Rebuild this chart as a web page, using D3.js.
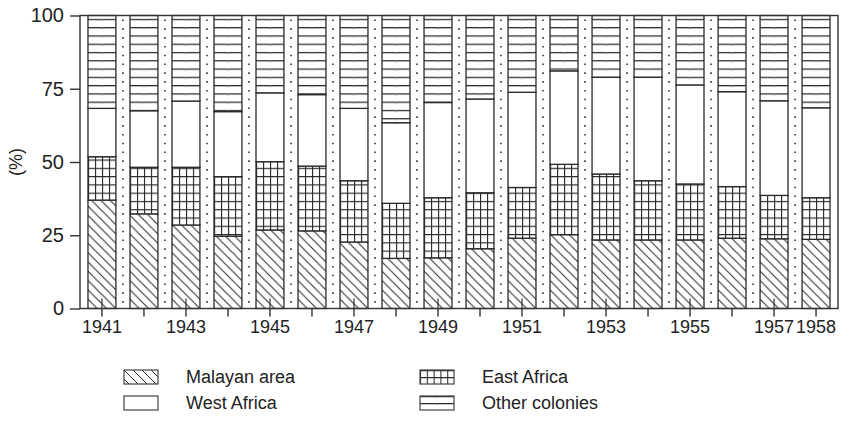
<!DOCTYPE html>
<html>
<head>
<meta charset="utf-8">
<script src="https://cdn.jsdelivr.net/npm/d3@7"></script>
<style>
  html, body { margin: 0; padding: 0; background: #fff; }
  svg text { font-family: "Liberation Sans", Arial, sans-serif; fill: #222; }
</style>
</head>
<body>
<svg id="chart" width="850" height="426"></svg>
<script>
// Share of colonial exports by region, 1941–1958 (percent, stacked to 100)
const years = [1941, 1942, 1943, 1944, 1945, 1946, 1947, 1948, 1949,
               1950, 1951, 1952, 1953, 1954, 1955, 1956, 1957, 1958];
const malayanArea = [37.0, 32.3, 28.5, 24.7, 26.8, 26.5, 22.7, 17.1, 17.3,
                     20.4, 24.0, 25.2, 23.4, 23.4, 23.4, 24.0, 23.8, 23.6];
const eastAfrica  = [14.8, 15.9, 19.7, 20.3, 23.3, 22.1, 20.9, 18.8, 20.5,
                     19.1, 17.3, 24.0, 22.5, 20.2, 19.1, 17.6, 14.8, 14.2];
const westAfrica  = [16.5, 19.3, 22.6, 22.2, 23.5, 24.4, 24.7, 27.5, 32.5,
                     32.0, 32.5, 31.9, 33.0, 35.3, 33.8, 32.4, 32.3, 30.7];
const otherColonies = years.map((_, i) =>
  +(100 - malayanArea[i] - eastAfrica[i] - westAfrica[i]).toFixed(1));

const yTicks = [0, 25, 50, 75, 100];
const xLabels = [1941, 1943, 1945, 1947, 1949, 1951, 1953, 1955, 1957, 1958];

const seriesKeys = ["mal", "ea", "wa", "oth"];
const seriesNames = {
  mal: "Malayan area", ea: "East Africa", wa: "West Africa", oth: "Other colonies"
};

const rows = years.map((yr, i) => ({
  year: yr, mal: malayanArea[i], ea: eastAfrica[i], wa: westAfrica[i], oth: otherColonies[i]
}));

const svg = d3.select("#chart");
const plotLeft = 80, plotRight = 838, plotTop = 15.5, plotBottom = 308.5;
const ink = "#2a2a2a";

const x = d3.scaleBand().domain(years).range([plotLeft, plotRight])
  .paddingInner(0.335).paddingOuter(0.19);
const y = d3.scaleLinear().domain([0, 100]).range([plotBottom, plotTop]);
const bw = x.bandwidth();
const rowStep = (y(0) - y(100)) / 35.4;   // spacing of the ruled patterns

const defs = svg.append("defs");

// Pattern builders; each bar gets its own copy aligned to its left edge
function hatchPattern(id, x0) {
  const s = bw / 3;
  const p = defs.append("pattern").attr("id", id)
    .attr("patternUnits", "userSpaceOnUse")
    .attr("x", x0).attr("y", y(0))
    .attr("width", s).attr("height", s);
  p.append("rect").attr("width", s).attr("height", s).attr("fill", "#fff");
  p.append("path")
    .attr("d", `M${-s},0L${s},${2 * s}M0,${-s}L${2 * s},${s}M0,0L${s},${s}`)
    .attr("stroke", ink).attr("stroke-width", 1.05);
}
function gridPattern(id, x0) {
  const w = bw / 4, h = rowStep;
  const p = defs.append("pattern").attr("id", id)
    .attr("patternUnits", "userSpaceOnUse")
    .attr("x", x0).attr("y", y(0))
    .attr("width", w).attr("height", h);
  p.append("rect").attr("width", w).attr("height", h).attr("fill", "#fff");
  p.append("path").attr("d", `M0.5,0V${h}M0,0.6H${w}`)
    .attr("stroke", ink).attr("stroke-width", 1.3);
}
function rulePattern(id, x0) {
  const w = bw, h = rowStep;
  const p = defs.append("pattern").attr("id", id)
    .attr("patternUnits", "userSpaceOnUse")
    .attr("x", x0).attr("y", y(0))
    .attr("width", w).attr("height", h);
  p.append("rect").attr("width", w).attr("height", h).attr("fill", "#fff");
  p.append("path").attr("d", `M0,0.6H${w}`)
    .attr("stroke", ink).attr("stroke-width", 1.3);
  p.append("path").attr("d", `M${w / 2},0V2`)
    .attr("stroke", "#777").attr("stroke-width", 1);
}

years.forEach(yr => {
  const x0 = x(yr);
  hatchPattern(`mal-${yr}`, x0);
  gridPattern(`ea-${yr}`, x0);
  rulePattern(`oth-${yr}`, x0);
});

// Dotted separators between bars
const seps = years.slice(0, -1).map(yr => x(yr) + bw + (x.step() - bw) / 2);
svg.append("g").selectAll("line").data(seps).join("line")
  .attr("x1", d => d).attr("x2", d => d)
  .attr("y1", plotTop + 4).attr("y2", plotBottom)
  .attr("stroke", "#333").attr("stroke-width", 1.6)
  .attr("stroke-dasharray", "1.6,7.2");

// Stacked bars
const stack = d3.stack().keys(seriesKeys)(rows);
const gBars = svg.append("g");
stack.forEach(layer => {
  const key = layer.key;
  gBars.append("g").selectAll("rect").data(layer).join("rect")
    .attr("x", d => x(d.data.year))
    .attr("y", d => y(d[1]))
    .attr("width", bw)
    .attr("height", d => y(d[0]) - y(d[1]))
    .attr("fill", d => key === "wa" ? "#fff" : `url(#${key}-${d.data.year})`)
    .attr("stroke", ink).attr("stroke-width", 1.3);
});

// Frame
svg.append("rect").attr("x", plotLeft).attr("y", plotTop)
  .attr("width", plotRight - plotLeft).attr("height", plotBottom - plotTop)
  .attr("fill", "none").attr("stroke", "#333").attr("stroke-width", 1.4);

// Y axis
const yAxis = svg.append("g").attr("transform", `translate(${plotLeft},0)`)
  .call(d3.axisLeft(y).tickValues(yTicks).tickSize(10).tickPadding(6));
yAxis.select(".domain").remove();
yAxis.selectAll(".tick line").attr("stroke", "#333").attr("stroke-width", 1.4);
yAxis.selectAll(".tick text").style("font-size", "20px").attr("fill", "#222");

// X axis: ticks under every bar, labels on selected years
const xAxis = svg.append("g").attr("transform", `translate(0,${plotBottom})`)
  .call(d3.axisBottom(x).tickSize(8).tickPadding(4)
    .tickFormat(d => xLabels.includes(d) ? d : ""));
xAxis.select(".domain").remove();
xAxis.selectAll(".tick line").attr("stroke", "#333").attr("stroke-width", 1.4);
xAxis.selectAll(".tick text").style("font-size", "18px").attr("fill", "#222");
// short inner ticks on labelled years
xAxis.selectAll(".tick").filter(d => xLabels.includes(d) && d !== 1958)
  .append("line").attr("y1", 0).attr("y2", -10)
  .attr("stroke", "#333").attr("stroke-width", 1.2);

// Y title
svg.append("text")
  .attr("transform", `translate(16,${(plotTop + plotBottom) / 2}) rotate(-90)`)
  .attr("text-anchor", "middle")
  .attr("dominant-baseline", "central")
  .style("font-size", "18px")
  .text("(%)");

// Legend
const legendItems = [
  { key: "mal", col: 0, row: 0 }, { key: "ea", col: 1, row: 0 },
  { key: "wa", col: 0, row: 1 }, { key: "oth", col: 1, row: 1 }
];
const legX = [124, 420], legY = [370, 396];
legendItems.forEach(it => {
  const lx = legX[it.col], ly = legY[it.row];
  const pid = `leg-${it.key}`;
  if (it.key === "mal") {
    const s = 9;
    const p = defs.append("pattern").attr("id", pid).attr("patternUnits", "userSpaceOnUse")
      .attr("x", lx).attr("y", ly).attr("width", s).attr("height", s);
    p.append("path").attr("d", `M${-s},0L${s},${2 * s}M0,${-s}L${2 * s},${s}M0,0L${s},${s}`)
      .attr("stroke", ink).attr("stroke-width", 1);
  } else if (it.key === "ea") {
    const p = defs.append("pattern").attr("id", pid).attr("patternUnits", "userSpaceOnUse")
      .attr("x", lx).attr("y", ly).attr("width", 6.8).attr("height", 7);
    p.append("path").attr("d", "M0.5,0V7M0,0.6H6.8")
      .attr("stroke", ink).attr("stroke-width", 1.1);
  } else if (it.key === "oth") {
    const p = defs.append("pattern").attr("id", pid).attr("patternUnits", "userSpaceOnUse")
      .attr("x", lx).attr("y", ly).attr("width", 34).attr("height", 7);
    p.append("path").attr("d", "M0,0.6H34").attr("stroke", ink).attr("stroke-width", 1.1);
    p.append("path").attr("d", "M17,0V2").attr("stroke", "#777").attr("stroke-width", 1);
  }
  svg.append("rect").attr("x", lx).attr("y", ly).attr("width", 34).attr("height", 14)
    .attr("fill", it.key === "wa" ? "#fff" : `url(#${pid})`)
    .attr("stroke", "#444").attr("stroke-width", 1.2);
  svg.append("text").attr("x", lx + 62).attr("y", ly + 7)
    .attr("dominant-baseline", "central")
    .style("font-size", "18px")
    .text(seriesNames[it.key]);
});
</script>
</body>
</html>
